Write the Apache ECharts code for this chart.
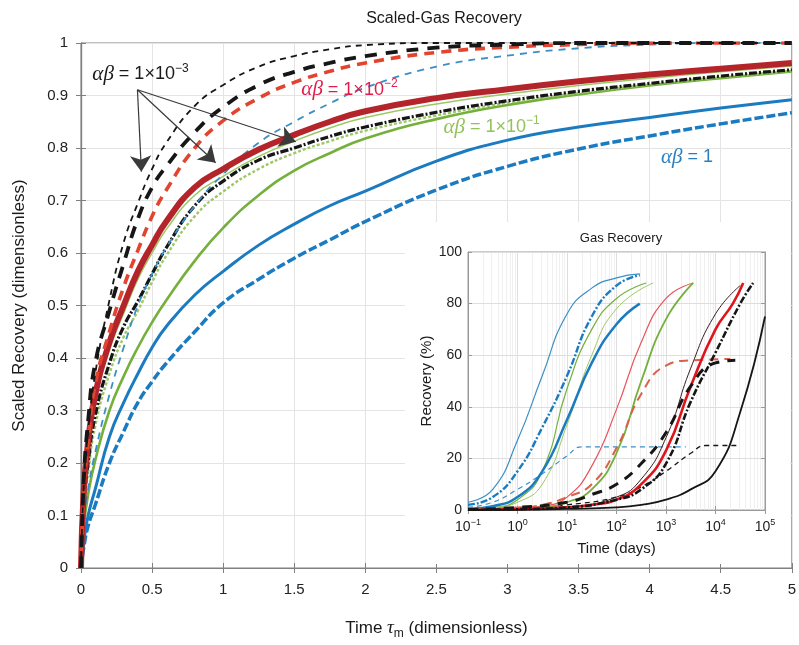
<!DOCTYPE html>
<html>
<head>
<meta charset="utf-8">
<script src="https://cdn.jsdelivr.net/npm/echarts@6/dist/echarts.min.js"></script>
<style>
  html, body { margin: 0; padding: 0; background: #fff; }
  #chart { width: 799px; height: 645px; }
</style>
</head>
<body>
<div id="chart"></div>
<script>
// ---- Scaled recovery vs dimensionless time (main plot) ----
const tau = [0, 0.02, 0.05, 0.1, 0.2, 0.3, 0.4, 0.5, 0.6, 0.8, 1.0, 1.25, 1.5, 1.75, 2, 2.5, 3, 3.5, 4, 4.5, 5];

// alpha*beta = 1e-3
const ab3ThinDash  = [0, 0.16, 0.26, 0.37, 0.51, 0.62, 0.695, 0.76, 0.81, 0.88, 0.92, 0.955, 0.975, 0.988, 0.996, 1, 1, 1, 1, 1, 1];
const ab3ThickDash = [0, 0.17, 0.28, 0.39, 0.49, 0.58, 0.665, 0.725, 0.765, 0.83, 0.878, 0.92, 0.945, 0.962, 0.975, 0.991, 0.997, 1, 1, 1, 1];
const ab3DashDot   = [0, 0.12, 0.20, 0.29, 0.39, 0.46, 0.508, 0.56, 0.61, 0.69, 0.737, 0.777, 0.80, 0.822, 0.84, 0.868, 0.89, 0.908, 0.923, 0.937, 0.949];
// alpha*beta = 1e-2
const ab2Dash      = [0, 0.15, 0.24, 0.35, 0.45, 0.535, 0.605, 0.67, 0.72, 0.80, 0.852, 0.895, 0.925, 0.946, 0.962, 0.982, 0.992, 0.997, 1, 1, 1];
const ab2Solid     = [0, 0.15, 0.24, 0.33, 0.43, 0.50, 0.565, 0.615, 0.66, 0.725, 0.76, 0.797, 0.825, 0.85, 0.87, 0.895, 0.912, 0.927, 0.94, 0.951, 0.962];
// alpha*beta = 1e-1
const ab1Thin      = [0, 0.14, 0.225, 0.315, 0.415, 0.485, 0.55, 0.60, 0.645, 0.71, 0.746, 0.784, 0.813, 0.838, 0.858, 0.884, 0.903, 0.919, 0.933, 0.945, 0.956];
const ab1Dash      = [0, 0.11, 0.18, 0.27, 0.37, 0.44, 0.49, 0.545, 0.595, 0.67, 0.717, 0.76, 0.79, 0.813, 0.833, 0.862, 0.886, 0.905, 0.921, 0.935, 0.947];
const ab1Solid     = [0, 0.08, 0.14, 0.205, 0.30, 0.365, 0.42, 0.468, 0.51, 0.585, 0.648, 0.71, 0.757, 0.79, 0.818, 0.855, 0.882, 0.902, 0.919, 0.933, 0.946];
// alpha*beta = 1
const ab0ThinDash  = [0, 0.09, 0.15, 0.22, 0.33, 0.42, 0.50, 0.56, 0.61, 0.69, 0.75, 0.81, 0.85, 0.885, 0.915, 0.955, 0.976, 0.99, 0.997, 1, 1];
const ab0Solid     = [0, 0.05, 0.10, 0.15, 0.25, 0.315, 0.37, 0.42, 0.46, 0.52, 0.565, 0.615, 0.655, 0.69, 0.718, 0.775, 0.815, 0.84, 0.858, 0.876, 0.892];
const ab0Dash      = [0, 0.04, 0.08, 0.12, 0.20, 0.26, 0.315, 0.355, 0.39, 0.45, 0.505, 0.55, 0.59, 0.625, 0.66, 0.72, 0.765, 0.798, 0.823, 0.846, 0.867];

const xTicks = [0, 0.5, 1, 1.5, 2, 2.5, 3, 3.5, 4, 4.5, 5];
const yTicks = [0, 0.1, 0.2, 0.3, 0.4, 0.5, 0.6, 0.7, 0.8, 0.9, 1];

// ---- Gas recovery (%) vs time in days, log10(days) ----
const gBlueThinT   = [-1, -0.5, 0, 0.5, 1, 1.5, 2, 2.47];
const gBlueThinV   = [3, 8, 27, 52, 76, 86, 90, 91.5];
const gBlueDDT     = [-1, -0.5, 0, 0.5, 1, 1.5, 2, 2.47];
const gBlueDDV     = [2, 5, 15, 32, 52, 75, 87, 91];
const gBlueFlatT   = [-1, -0.5, 0, 0.5, 1, 1.3, 3.4];
const gBlueFlatV   = [1, 3, 8, 14, 21, 24.5, 24.5];
const gGreen1T     = [-1, -0.5, 0, 0.5, 1, 1.5, 2, 2.6];
const gGreen1V     = [0.5, 1, 4, 15, 47, 70, 82, 88];
const gGreen2T     = [-1, -0.5, 0, 0.5, 1, 1.5, 2, 2.74];
const gGreen2V     = [0.5, 1, 3, 10, 33, 60, 78, 88];
const gBlueSolidT  = [-1, -0.5, 0, 0.5, 1, 1.5, 2, 2.47];
const gBlueSolidV  = [0.5, 1.5, 5, 15, 35, 57, 72, 80];
const gRedThinT    = [-1, 0, 0.5, 1, 1.5, 2, 2.5, 3, 3.55];
const gRedThinV    = [0.2, 0.8, 1.5, 5, 17, 39, 65, 82, 88];
const gRedDashT    = [-1, 0, 0.5, 1, 1.5, 2, 2.5, 3, 3.5, 4.3];
const gRedDashV    = [0.2, 1, 2, 5, 10, 24, 45, 56, 58, 58.5];
const gGreenThickT = [-1, 0, 0.5, 1, 1.5, 2, 2.5, 3, 3.55];
const gGreenThickV = [0.2, 0.5, 1, 3, 8, 22, 50, 74, 88];
const gDarkThinT   = [-1, 0, 1, 2, 2.5, 3, 3.5, 4, 4.5];
const gDarkThinV   = [0.1, 0.4, 1.2, 5, 12, 28, 55, 76, 87];
const gRedThickT   = [-1, 0, 1, 1.5, 2, 2.5, 3, 3.5, 4, 4.35, 4.56];
const gRedThickV   = [0.1, 0.3, 1, 2, 4, 10, 23, 48, 70, 80, 88];
const gBlackDDT    = [-1, 0, 1, 2, 2.5, 3, 3.5, 4, 4.5, 4.76];
const gBlackDDV    = [0.1, 0.3, 1, 4, 8, 18, 42, 61, 80, 88];
const gBlackDashT  = [-1, 0, 1, 1.5, 2, 2.5, 3, 3.5, 4, 4.4];
const gBlackDashV  = [0.2, 1, 3, 6, 10, 18, 30, 48, 57, 58];
const gBlackThinT  = [-1, 0, 1, 2, 2.5, 3, 3.5, 4, 4.5, 5];
const gBlackThinV  = [0, 0.1, 0.4, 1, 2, 4, 8, 15, 38, 75];
const gBlackTDT    = [-1, 0, 1, 2, 2.5, 3, 3.5, 3.8, 4.5];
const gBlackTDV    = [0.1, 0.5, 2, 5, 9, 15, 22, 25, 25];

const FONT = '"Liberation Sans", Arial, Helvetica, sans-serif';
const SERIF = '"Liberation Serif", "DejaVu Serif", serif';
const AXIS_GRAY = '#808080';
const GRID_GRAY = '#e4e4e4';

const BLACK = '#161616';
const RED_DASH = '#e2452f';
const RED_SOLID = '#b3252a';
const GREEN_LIGHT = '#9cc865';
const GREEN = '#74b03b';
const BLUE = '#1b7bc1';
const BLUE_LIGHT = '#3b8fc6';

function mainPairs(vals) { return tau.map((t, i) => [t, vals[i]]); }
function logPairs(ts, vs) { return ts.map((e, i) => [Math.pow(10, e), vs[i]]); }

function mainLine(name, vals, color, width, type, z) {
  return {
    name, type: 'line', xAxisIndex: 0, yAxisIndex: 0,
    data: mainPairs(vals), showSymbol: false, symbol: 'none',
    smooth: 0.5, z: z || 2,
    lineStyle: { color, width, type: type || 'solid', cap: 'butt' },
    emphasis: { disabled: true }, animation: false
  };
}
function insetLine(name, ts, vs, color, width, type) {
  return {
    name, type: 'line', xAxisIndex: 2, yAxisIndex: 2,
    data: logPairs(ts, vs), showSymbol: false, symbol: 'none',
    smooth: 0.5, z: 7,
    lineStyle: { color, width, type: type || 'solid', cap: 'butt' },
    emphasis: { disabled: true }, animation: false
  };
}

function abLabel(color, expText) {
  return {
    show: true, position: 'right', distance: 0,
    formatter: expText ? '{ab|αβ}{n| = 1×10}{sup|' + expText + '}' : '{ab|αβ}{n| = 1}',
    rich: {
      ab: { fontFamily: SERIF, fontStyle: 'italic', fontSize: 21, lineHeight: 24, color },
      n: { fontFamily: FONT, fontSize: 18, lineHeight: 24, color },
      sup: { fontFamily: FONT, fontSize: 12, lineHeight: 14, verticalAlign: 'top', color }
    }
  };
}
function textPoint(coord, color, expText) {
  return { coord, symbol: 'circle', symbolSize: 0, label: abLabel(color, expText) };
}
function arrow(from, to) {
  return [
    { coord: from, symbol: 'none' },
    { coord: to, symbol: 'arrow', symbolSize: 16 }
  ];
}

// minor log grid positions for the inset time axis
const minorDays = [];
for (let k = -1; k < 5; k++) {
  for (let m = 2; m <= 9; m++) minorDays.push(m * Math.pow(10, k));
}

const supMap = { '-1': '−1', '0': '0', '1': '1', '2': '2', '3': '3', '4': '4', '5': '5' };

const chart = echarts.init(document.getElementById('chart'), null, { renderer: 'canvas' });

const annotated = mainLine('ab3-thin-dash', ab3ThinDash, BLACK, 1.8, [6, 5], 3);
annotated.markPoint = {
  silent: true, animation: false,
  data: [
    textPoint([0.08, 0.94], '#1a1a1a', '−3'),
    textPoint([1.55, 0.911], '#e31b4b', '−2'),
    textPoint([2.55, 0.84], '#93c25a', '−1'),
    textPoint([4.08, 0.782], '#2a7fc0', null)
  ]
};
annotated.markLine = {
  silent: true, animation: false,
  label: { show: false },
  lineStyle: { color: '#3a3a3a', width: 1.2, type: 'solid' },
  data: [
    arrow([0.397, 0.911], [0.425, 0.755]),
    arrow([0.397, 0.911], [0.947, 0.772]),
    arrow([0.397, 0.911], [1.511, 0.812])
  ]
};

const option = {
  backgroundColor: '#fff',
  animation: false,
  textStyle: { fontFamily: FONT },
  title: [
    { text: 'Scaled-Gas Recovery', left: 439, top: 6, textAlign: 'center',
      textStyle: { fontFamily: FONT, fontSize: 16, fontWeight: 'normal', color: '#1a1a1a' } },
    { text: 'Gas Recovery', left: 616, top: 227, textAlign: 'center', z: 8,
      textStyle: { fontFamily: FONT, fontSize: 13, fontWeight: 'normal', color: '#1a1a1a' } }
  ],
  graphic: [
    { type: 'rect', shape: { x: 405, y: 222, width: 385, height: 342 }, style: { fill: '#ffffff' }, z: 3, silent: true }
  ],
  grid: [
    { left: 81, top: 43, right: 2, bottom: 75, show: true, borderColor: AXIS_GRAY, borderWidth: 1, backgroundColor: 'transparent' },
    { left: 468, top: 252, width: 297, height: 258, show: true, borderColor: '#9a9a9a', borderWidth: 1, z: 5 }
  ],
  xAxis: [
    {
      type: 'value', gridIndex: 0, min: 0, max: 5, interval: 0.5, position: 'bottom',
      name: '{a|Time }{t|τ}{s|m}{a| (dimensionless)}', nameLocation: 'middle', nameGap: 48,
      nameTextStyle: {
        rich: {
          a: { fontFamily: FONT, fontSize: 17, lineHeight: 24, color: '#1a1a1a' },
          t: { fontFamily: SERIF, fontStyle: 'italic', fontSize: 19, lineHeight: 24, color: '#1a1a1a' },
          s: { fontFamily: FONT, fontSize: 12, lineHeight: 13, verticalAlign: 'bottom', color: '#1a1a1a' }
        }
      },
      axisLine: { show: true, lineStyle: { color: AXIS_GRAY, width: 1.2 } },
      axisTick: { show: true, inside: true, length: 5, lineStyle: { color: AXIS_GRAY } },
      splitLine: { show: true, lineStyle: { color: GRID_GRAY, width: 1 } },
      axisLabel: { fontSize: 15, color: '#222', margin: 14, fontFamily: FONT,
        customValues: xTicks, formatter: v => String(v) }
    },
    {
      type: 'value', gridIndex: 0, min: 0, max: 5, interval: 0.5, position: 'top',
      axisLine: { show: true, lineStyle: { color: AXIS_GRAY, width: 1.2 } },
      axisTick: { show: true, inside: true, length: 5, lineStyle: { color: AXIS_GRAY } },
      splitLine: { show: false }, axisLabel: { show: false }
    },
    {
      type: 'log', logBase: 10, gridIndex: 1, min: 0.1, max: 100000, splitNumber: 6, position: 'bottom', z: 6,
      name: 'Time (days)', nameLocation: 'middle', nameGap: 31,
      nameTextStyle: { fontFamily: FONT, fontSize: 15, color: '#1a1a1a' },
      axisLine: { show: true, lineStyle: { color: '#9a9a9a', width: 1 } },
      axisTick: { show: true, inside: true, length: 4, lineStyle: { color: '#9a9a9a' } },
      splitLine: { show: true, lineStyle: { color: '#dedede', width: 1 } },
      axisLabel: {
        margin: 8, color: '#222',
        formatter: v => '{b|10}{s|' + supMap[String(Math.round(Math.log10(v)))] + '}',
        rich: {
          b: { fontFamily: FONT, fontSize: 14, lineHeight: 18, color: '#222' },
          s: { fontFamily: FONT, fontSize: 9, lineHeight: 10, verticalAlign: 'top', color: '#222' }
        }
      }
    },
    {
      type: 'log', logBase: 10, gridIndex: 1, min: 0.1, max: 100000, splitNumber: 6, position: 'top', z: 6,
      axisLine: { show: true, lineStyle: { color: '#9a9a9a', width: 1 } },
      axisTick: { show: true, inside: true, length: 4, lineStyle: { color: '#9a9a9a' } },
      splitLine: { show: false }, axisLabel: { show: false }
    }
  ],
  yAxis: [
    {
      type: 'value', gridIndex: 0, min: 0, max: 1, interval: 0.1, position: 'left',
      name: 'Scaled Recovery (dimensionless)', nameLocation: 'middle', nameGap: 53, nameRotate: 90,
      nameTextStyle: { fontFamily: FONT, fontSize: 17, color: '#1a1a1a' },
      axisLine: { show: true, lineStyle: { color: AXIS_GRAY, width: 1.2 } },
      axisTick: { show: true, inside: true, length: 5, lineStyle: { color: AXIS_GRAY } },
      splitLine: { show: true, lineStyle: { color: GRID_GRAY, width: 1 } },
      axisLabel: { fontSize: 15, color: '#222', margin: 13, fontFamily: FONT,
        customValues: yTicks, formatter: v => String(Math.round(v * 10) / 10) }
    },
    {
      type: 'value', gridIndex: 0, min: 0, max: 1, interval: 0.1, position: 'right',
      axisLine: { show: true, lineStyle: { color: AXIS_GRAY, width: 1.2 } },
      axisTick: { show: true, inside: true, length: 5, lineStyle: { color: AXIS_GRAY } },
      splitLine: { show: false }, axisLabel: { show: false }
    },
    {
      type: 'value', gridIndex: 1, min: 0, max: 100, interval: 20, position: 'left', z: 6,
      name: 'Recovery (%)', nameLocation: 'middle', nameGap: 34, nameRotate: 90,
      nameTextStyle: { fontFamily: FONT, fontSize: 15, color: '#1a1a1a' },
      axisLine: { show: true, lineStyle: { color: '#9a9a9a', width: 1 } },
      axisTick: { show: true, inside: true, length: 4, lineStyle: { color: '#9a9a9a' } },
      splitLine: { show: true, lineStyle: { color: '#dedede', width: 1 } },
      axisLabel: { fontSize: 14, color: '#222', margin: 6, fontFamily: FONT }
    },
    {
      type: 'value', gridIndex: 1, min: 0, max: 100, interval: 20, position: 'right', z: 6,
      axisLine: { show: true, lineStyle: { color: '#9a9a9a', width: 1 } },
      axisTick: { show: true, inside: true, length: 4, lineStyle: { color: '#9a9a9a' } },
      splitLine: { show: false }, axisLabel: { show: false }
    }
  ],
  series: [
    // main plot, back to front
    mainLine('ab0-dash', ab0Dash, BLUE, 3.5, [9, 3]),
    mainLine('ab0-solid', ab0Solid, BLUE, 3),
    mainLine('ab1-solid', ab1Solid, GREEN, 2.6),
    mainLine('ab1-dash', ab1Dash, GREEN_LIGHT, 2.4, [3, 2]),
    mainLine('ab3-dashdot', ab3DashDot, BLACK, 3.2, [8, 2, 2, 2]),
    mainLine('ab1-thin', ab1Thin, GREEN_LIGHT, 1.5),
    mainLine('ab0-thin-dash', ab0ThinDash, BLUE_LIGHT, 1.8, [7, 6]),
    mainLine('ab2-solid', ab2Solid, RED_SOLID, 6),
    mainLine('ab2-dash', ab2Dash, RED_DASH, 3.6, [10, 7]),
    mainLine('ab3-thick-dash', ab3ThickDash, BLACK, 3.8, [12, 9]),
    annotated,

    // inset minor grid
    {
      name: 'inset-minor-grid', type: 'line', xAxisIndex: 2, yAxisIndex: 2, data: [], z: 6,
      markLine: {
        silent: true, animation: false, symbol: 'none', label: { show: false },
        lineStyle: { color: '#ececec', width: 0.8, type: 'solid' },
        data: minorDays.map(d => ({ xAxis: d }))
      }
    },
    // inset curves
    insetLine('g-blue-flat', gBlueFlatT, gBlueFlatV, BLUE_LIGHT, 1.2, [5, 4]),
    insetLine('g-black-thin-dash', gBlackTDT, gBlackTDV, BLACK, 1.3, [5, 4]),
    insetLine('g-blue-thin', gBlueThinT, gBlueThinV, BLUE_LIGHT, 1.2),
    insetLine('g-blue-dd', gBlueDDT, gBlueDDV, BLUE, 2.4, [7, 2, 2, 2]),
    insetLine('g-green-1', gGreen1T, gGreen1V, GREEN, 1.2),
    insetLine('g-green-2', gGreen2T, gGreen2V, GREEN_LIGHT, 1.0),
    insetLine('g-blue-solid', gBlueSolidT, gBlueSolidV, BLUE, 2.5),
    insetLine('g-red-thin', gRedThinT, gRedThinV, '#e8555e', 1.2),
    insetLine('g-green-thick', gGreenThickT, gGreenThickV, GREEN, 1.8),
    insetLine('g-red-dash', gRedDashT, gRedDashV, '#d9604a', 2.0, [9, 6]),
    insetLine('g-dark-thin', gDarkThinT, gDarkThinV, '#3a1f1f', 1.0),
    insetLine('g-red-thick', gRedThickT, gRedThickV, '#e0141c', 2.6),
    insetLine('g-black-dd', gBlackDDT, gBlackDDV, BLACK, 2.6, [7, 2, 2, 2]),
    insetLine('g-black-dash', gBlackDashT, gBlackDashV, BLACK, 3, [10, 8]),
    insetLine('g-black-thin', gBlackThinT, gBlackThinV, BLACK, 1.8)
  ]
};

chart.setOption(option);
</script>
</body>
</html>
